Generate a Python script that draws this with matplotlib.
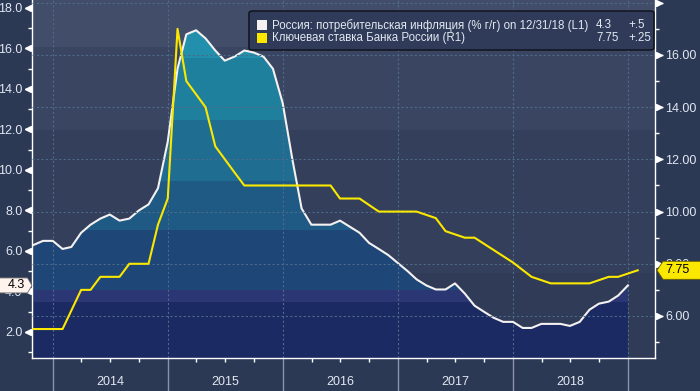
import numpy as np
import pandas as pd
import matplotlib
matplotlib.use("Agg")
import matplotlib.pyplot as plt
import matplotlib.dates as mdates
import matplotlib.transforms as mtransforms
from matplotlib.patches import Polygon, Rectangle, FancyBboxPatch

plt.rcParams['font.family'] = ['Liberation Sans', 'DejaVu Sans']

# CPI, % y/y, month-end values (left axis)
cpi_dates = pd.date_range("2013-10-31", "2018-12-31", freq="ME")
cpi = [6.3, 6.5, 6.5,
       6.1, 6.2, 6.9, 7.3, 7.6, 7.8, 7.5, 7.6, 8.0, 8.3, 9.1, 11.4,
       15.0, 16.7, 16.9, 16.5, 15.9, 15.4, 15.6, 15.9, 15.8, 15.6, 15.0, 13.3,
       10.5, 8.1, 7.3, 7.3, 7.3, 7.5, 7.2, 6.9, 6.4, 6.1, 5.8, 5.4,
       5.0, 4.6, 4.3, 4.1, 4.1, 4.4, 3.9, 3.3, 3.0, 2.7, 2.5, 2.5,
       2.2, 2.2, 2.4, 2.4, 2.4, 2.3, 2.5, 3.1, 3.4, 3.5, 3.8, 4.3]

# key rate (right axis)
rate_dates = pd.to_datetime([
    "2013-10-31", "2014-01-31", "2014-03-31", "2014-04-30", "2014-05-31", "2014-07-31",
    "2014-08-31", "2014-10-31", "2014-11-30", "2014-12-31", "2015-01-31", "2015-02-28",
    "2015-04-30", "2015-05-31", "2015-07-31", "2015-08-31", "2016-05-31", "2016-06-30",
    "2016-08-31", "2016-10-31", "2017-02-28", "2017-04-30", "2017-05-31", "2017-07-31",
    "2017-08-31", "2017-12-31", "2018-02-28", "2018-04-30", "2018-08-31", "2018-10-31",
    "2018-11-30", "2019-01-31"])
rate = [5.5, 5.5, 7.0, 7.0, 7.5, 7.5, 8.0, 8.0, 9.5, 10.5, 17.0, 15.0,
        14.0, 12.5, 11.5, 11.0, 11.0, 10.5, 10.5, 10.0, 10.0, 9.75, 9.25, 9.0,
        9.0, 8.05, 7.5, 7.25, 7.25, 7.5, 7.5, 7.75]

cpi_label = "Россия: потребительская инфляция (% г/г) on 12/31/18 (L1)"
rate_label = "Ключевая ставка Банка России (R1)"
cpi_change = "+.5"
rate_change = "+.25"
years = [2014, 2015, 2016, 2017, 2018]

left_ticks = np.arange(2, 19, 2)
right_ticks = np.arange(6, 19, 2)

FIG_BG = '#2c3955'
TXT = '#e2e8f2'
YEL = '#fbe800'
WHITE = '#f4f1f0'

fig = plt.figure(figsize=(7, 3.91), dpi=100, facecolor=FIG_BG)
ax = fig.add_axes([32 / 700, 33 / 391, 623 / 700, 358 / 391])
ax2 = ax.twinx()

ylo, yhi = 0.716, 18.395
ax.set_ylim(ylo, yhi)
ax2.set_ylim(4.39, 18.107)
ax.set_xlim(pd.Timestamp("2013-10-26"), pd.Timestamp("2019-03-27"))

# background bands
bg_edges = [ylo, 4.91, 11.98, 16.07, yhi]
bg_colors = ['#2f3b57', '#333f5b', '#3a4562', '#424d69']
for lo, hi, c in zip(bg_edges[:-1], bg_edges[1:], bg_colors):
    ax.axhspan(lo, hi, color=c, lw=0, zorder=0.1)

# area under CPI, coloured in horizontal bands
xnum = mdates.date2num(cpi_dates)
verts = [(xnum[0], ylo)] + list(zip(xnum, cpi)) + [(xnum[-1], ylo)]
clip = Polygon(verts, closed=True, transform=ax.transData)
fill_edges = [ylo, 3.48, 4.07, 7.04, 9.46, 12.47, 15.53, yhi]
fill_colors = ['#1b2a62', '#2b3774', '#1e4677', '#1f5a84', '#1f6e92', '#1f809e', '#2290ac']
for lo, hi, c in zip(fill_edges[:-1], fill_edges[1:], fill_colors):
    r = ax.axhspan(lo, hi, color=c, lw=0, zorder=1)
    r.set_clip_path(clip)

ax.plot(cpi_dates, cpi, color=WHITE, lw=1.5, zorder=3)
ax2.plot(rate_dates, rate, color=YEL, lw=1.5, zorder=3)

# grid
ax.xaxis.set_major_locator(mdates.YearLocator())
ax.xaxis.set_minor_locator(mdates.MonthLocator(bymonth=[1, 4, 7, 10]))
ax.set_axisbelow('line')
ax.grid(axis='x', which='major', color='#4d6a88', ls=(0, (2, 2)), lw=0.8)
ax2.set_axisbelow(True)
ax2.grid(axis='y', color='#4d6a88', ls=(0, (2, 2)), lw=0.8)

# spines
for a in (ax, ax2):
    a.spines['top'].set_visible(False)
ax.spines['right'].set_visible(False)
ax2.spines['left'].set_visible(False)
ax2.spines['bottom'].set_visible(False)
for s in (ax.spines['left'], ax.spines['bottom'], ax2.spines['right']):
    s.set_color('white')
    s.set_linewidth(1)

# x ticks
ax.tick_params(axis='x', which='major', length=24, width=1, color='#8a93a8', labelbottom=False)
ax.tick_params(axis='x', which='minor', length=3, width=1, color='white')
blend_x = mtransforms.blended_transform_factory(ax.transData, ax.transAxes)
for y in years:
    ax.annotate(str(y), xy=(mdates.date2num(pd.Timestamp(f"{y}-07-01")), 0), xycoords=blend_x,
                xytext=(0, -17.3), textcoords='offset points', ha='center', va='center',
                color=TXT, fontsize=9, annotation_clip=False)

# left y ticks
ax.set_yticks(left_ticks)
ax.set_yticklabels([f"{v:.1f}" for v in left_ticks])
ax.set_yticks(np.arange(1, 18, 2), minor=True)
ax.tick_params(axis='y', which='major', length=5, width=1, color='white',
               labelcolor=TXT, labelsize=9, pad=2)
ax.tick_params(axis='y', which='minor', length=3, width=1, color='white')
blend_l = mtransforms.blended_transform_factory(ax.transAxes, ax.transData)
ax.plot(np.zeros(len(left_ticks)), left_ticks, ls='none', marker='<', ms=4.5, color='white',
        transform=mtransforms.offset_copy(blend_l, fig=fig, x=-4, y=0, units='dots'),
        clip_on=False, zorder=5)

# right y ticks
ax2.set_yticks(right_ticks)
ax2.set_yticklabels([f"{v:.2f}" if v < 18 else "" for v in right_ticks])
ax2.set_yticks(np.arange(5, 18, 2), minor=True)
ax2.tick_params(axis='y', which='major', length=6, width=1, color='white',
                labelcolor=TXT, labelsize=9, pad=1.5)
ax2.tick_params(axis='y', which='minor', length=3, width=1, color='white')
blend_r = mtransforms.blended_transform_factory(ax2.transAxes, ax2.transData)
ax2.plot(np.ones(len(right_ticks)), right_ticks, ls='none', marker='>', ms=4.5, color='white',
         transform=mtransforms.offset_copy(blend_r, fig=fig, x=4, y=0, units='dots'),
         clip_on=False, zorder=5)

# last-value tags
tr_l = fig.dpi_scale_trans + mtransforms.ScaledTranslation(0, cpi[-1], blend_l)
fig.add_artist(Polygon([(-0.34, -0.075), (-0.045, -0.075), (0, 0), (-0.045, 0.075), (-0.34, 0.075)],
                       closed=True, transform=tr_l, fc='#fff3ee', ec='#6a6a6a', lw=0.6, zorder=10))
fig.text(-0.155, 0, f"{cpi[-1]:.1f}", transform=tr_l, ha='center', va='center',
         color='black', fontsize=9, zorder=11)

tr_r = fig.dpi_scale_trans + mtransforms.ScaledTranslation(1, rate[-1], blend_r)
fig.add_artist(Polygon([(0.02, 0), (0.08, -0.09), (0.5, -0.09), (0.5, 0.09), (0.08, 0.09)],
                       closed=True, transform=tr_r, fc=YEL, ec='#6a6000', lw=0.6, zorder=10))
fig.text(0.1, 0, f"{rate[-1]:.2f}", transform=tr_r, ha='left', va='center',
         color='black', fontsize=9, zorder=11)

# legend box
x0, x1, y0, y1 = 0.3483, 0.9984, 0.8603, 0.9693
ax2.add_patch(FancyBboxPatch((x0, y0), x1 - x0, y1 - y0, boxstyle='round,pad=0,rounding_size=0.006',
                             transform=ax2.transAxes, fc='#2f3b58', ec='#0c1018', lw=1, zorder=8))
for ry, col, lab, val, chg in [(0.930, WHITE, cpi_label, f"{cpi[-1]:.1f}", cpi_change),
                               (0.894, YEL, rate_label, f"{rate[-1]:.2f}", rate_change)]:
    ax2.add_patch(Rectangle((0.3612, ry - 0.014), 0.016, 0.028, transform=ax2.transAxes,
                            fc=col, ec='none', zorder=9))
    ax2.text(0.3853, ry, lab, transform=ax2.transAxes, ha='left', va='center',
             color=TXT, fontsize=8.3, zorder=9)
    ax2.text(0.9053, ry, val, transform=ax2.transAxes, ha='left', va='center',
             color=TXT, fontsize=8.3, zorder=9)
    ax2.text(0.9567, ry, chg, transform=ax2.transAxes, ha='left', va='center',
             color=TXT, fontsize=8.3, zorder=9)

fig.savefig("out.png", dpi=100, facecolor=FIG_BG)
